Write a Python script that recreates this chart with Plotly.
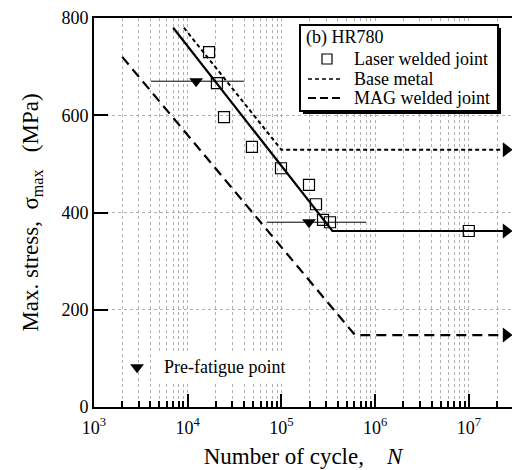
import plotly.graph_objects as go

# ---- data ----
laser_N = [16900, 20500, 24400, 48500, 99000, 197000, 234000, 278000, 330000, 1.0e7]
laser_S = [730, 666, 596, 535, 491, 457, 417, 385, 380, 362]

laser_line_N = [7000, 350000, 2.5e7]
laser_line_S = [780, 362, 362]
base_line_N = [9100, 100000, 2.5e7]
base_line_S = [780, 529, 529]
mag_line_N = [2000, 610000, 2.5e7]
mag_line_S = [720, 148, 148]

pf_N = [12300, 197000]
pf_S = [670, 380]
pf_lo = [4050, 70000]
pf_hi = [40000, 800000]

x_tickvals = [1e3, 1e4, 1e5, 1e6, 1e7]
x_ticktext = ["10<sup>3</sup>", "10<sup>4</sup>", "10<sup>5</sup>", "10<sup>6</sup>", "10<sup>7</sup>"]
y_tickvals = [0, 200, 400, 600, 800]

legend_title = "(b) HR780"
legend_names = ["Laser welded joint", "Base metal", "MAG welded joint"]

FONT = "Liberation Serif"

fig = go.Figure()

fig.add_trace(go.Scatter(x=laser_line_N, y=laser_line_S, mode="lines",
                         line=dict(color="black", width=2.2)))
fig.add_trace(go.Scatter(x=base_line_N, y=base_line_S, mode="lines",
                         line=dict(color="black", width=2, dash="4px,3px")))
fig.add_trace(go.Scatter(x=mag_line_N, y=mag_line_S, mode="lines",
                         line=dict(color="black", width=2.2, dash="10px,6px")))

fig.add_trace(go.Scatter(x=[laser_line_N[-1], base_line_N[-1], mag_line_N[-1]],
                         y=[laser_line_S[-1], base_line_S[-1], mag_line_S[-1]],
                         mode="markers", cliponaxis=False,
                         marker=dict(symbol="triangle-right", size=13, color="black")))

fig.add_trace(go.Scatter(x=pf_N, y=pf_S, mode="markers",
                         marker=dict(symbol="triangle-down", size=12, color="black"),
                         error_x=dict(type="data", symmetric=False,
                                      array=[h - n for h, n in zip(pf_hi, pf_N)],
                                      arrayminus=[n - l for n, l in zip(pf_N, pf_lo)],
                                      width=0, thickness=1, color="black")))

fig.add_trace(go.Scatter(x=laser_N, y=laser_S, mode="markers",
                         marker=dict(symbol="square-open", size=11, color="black",
                                     line=dict(width=1.2))))

# pre-fatigue key
fig.add_trace(go.Scatter(x=[2880], y=[82], mode="markers",
                         marker=dict(symbol="triangle-down", size=12, color="black")))
fig.add_annotation(x=3.736, y=82, xref="x", yref="y", text="Pre-fatigue point",
                   showarrow=False, xanchor="left", yanchor="middle",
                   bgcolor="white", borderpad=5, xshift=-5,
                   font=dict(family=FONT, size=18, color="black"))

# ---- hand-built legend box (plot-area paper coordinates) ----
def px(x):
    return (x - 94) / 418.0


def py(y):
    return (407 - y) / 389.0


fig.add_shape(type="rect", xref="paper", yref="paper", layer="above",
              x0=px(303), x1=px(501), y0=py(114), y1=py(28),
              fillcolor="black", line=dict(color="black", width=0))
fig.add_shape(type="rect", xref="paper", yref="paper", layer="above",
              x0=px(300), x1=px(498), y0=py(111), y1=py(25),
              fillcolor="white", line=dict(color="black", width=2))
fig.add_shape(type="rect", xref="paper", yref="paper", layer="above",
              x0=px(322), x1=px(332), y0=py(64), y1=py(54),
              fillcolor="white", line=dict(color="black", width=1.2))
fig.add_shape(type="line", xref="paper", yref="paper", layer="above",
              x0=px(308), x1=px(342), y0=py(79), y1=py(79),
              line=dict(color="black", width=1.5, dash="4px,3px"))
fig.add_shape(type="line", xref="paper", yref="paper", layer="above",
              x0=px(308), x1=px(342), y0=py(98), y1=py(98),
              line=dict(color="black", width=2, dash="8px,4px"))

fig.add_annotation(x=px(304), y=py(38), xref="paper", yref="paper", text=legend_title,
                   showarrow=False, xanchor="left", yanchor="middle",
                   font=dict(family=FONT, size=18, color="black"))
for name, yy in zip(legend_names, [59, 79, 98]):
    fig.add_annotation(x=px(352), y=py(yy), xref="paper", yref="paper", text=name,
                       showarrow=False, xanchor="left", yanchor="middle",
                       font=dict(family=FONT, size=18, color="black"))

grid = dict(gridcolor="#b0b0b0", gridwidth=1, griddash="dot")

fig.update_layout(
    width=512, height=470,
    margin=dict(l=94, r=0, t=18, b=63),
    paper_bgcolor="white", plot_bgcolor="white",
    showlegend=False,
    xaxis=dict(type="log", range=[3, 7.461], automargin=False,
               tickvals=x_tickvals, ticktext=x_ticktext,
               ticks="inside", ticklen=13, tickwidth=1.5, tickcolor="black",
               ticklabelstandoff=3,
               showline=True, linewidth=2, linecolor="black", mirror=True,
               showgrid=True, **grid,
               minor=dict(dtick="D1", ticks="inside", ticklen=6, tickwidth=1.5,
                          tickcolor="black", showgrid=True, **grid),
               tickfont=dict(family=FONT, size=18, color="black"),
               title=dict(text="Number of cycle,    <i>N</i>", standoff=11,
                          font=dict(family=FONT, size=23, color="black")),
               zeroline=False),
    yaxis=dict(range=[0, 800], tickvals=y_tickvals, automargin=False,
               ticks="inside", ticklen=14, tickwidth=2, tickcolor="black",
               showline=True, linewidth=2, linecolor="black", mirror=False,
               showgrid=True, **grid,
               tickfont=dict(family=FONT, size=18, color="black"),
               title=dict(text="Max. stress,  σ<sub>max</sub>   (MPa)", standoff=16,
                          font=dict(family=FONT, size=23, color="black")),
               zeroline=False),
)

fig.write_html("out.html")
